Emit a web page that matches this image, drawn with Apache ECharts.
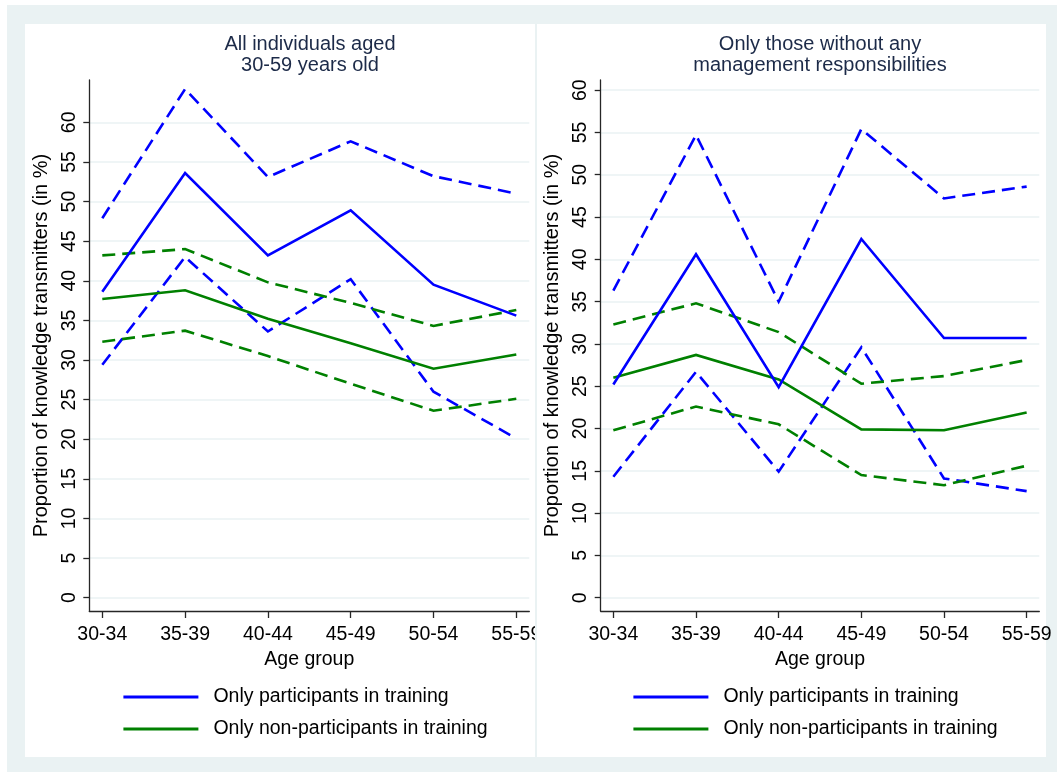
<!DOCTYPE html>
<html><head><meta charset="utf-8">
<script src="https://cdn.jsdelivr.net/npm/echarts@6/dist/echarts.min.js"></script>
<style>
html,body{margin:0;padding:0;background:#fff;width:1057px;height:772px;overflow:hidden}
#frame{position:absolute;left:7px;top:5px;width:1050px;height:767px;background:#eaf2f3}
.panel{position:absolute;top:24px;height:733px;background:#fff}
#p1{position:absolute;left:25px;top:24px;width:510px;height:733px;overflow:hidden}
#p2{position:absolute;left:537px;top:24px;width:515px;height:733px;overflow:hidden}
</style></head><body>
<div id="frame"></div>
<div class="panel" style="left:25px;width:510px"></div>
<div class="panel" style="left:537px;width:509px"></div>
<div id="p1"></div><div id="p2"></div>
<script>
// ---- data ----
const ageGroups = ['30-34', '35-39', '40-44', '45-49', '50-54', '55-59'];
const yTicks = [0, 5, 10, 15, 20, 25, 30, 35, 40, 45, 50, 55, 60];
const legendNames = ['Only participants in training', 'Only non-participants in training'];
const titleAll = 'All individuals aged\n30-59 years old';
const titleNoMgmt = 'Only those without any\nmanagement responsibilities';
const yTitle = 'Proportion of knowledge transmitters (in %)';
const xTitle = 'Age group';

// Panel 1: all individuals aged 30-59
const allPart   = [38.6, 53.6, 43.2, 48.9, 39.5, 35.6];
const allPartHi = [47.9, 64.2, 53.1, 57.6, 53.2, 51.0];
const allPartLo = [29.4, 43.0, 33.6, 40.2, 26.0, 20.1];
const allNon    = [37.7, 38.8, 35.2, 32.1, 28.9, 30.7];
const allNonHi  = [43.2, 44.0, 39.8, 37.2, 34.3, 36.3];
const allNonLo  = [32.3, 33.7, 30.5, 27.0, 23.6, 25.1];

// Panel 2: only those without management responsibilities
const nmPart   = [25.2, 40.6, 24.9, 42.4, 30.7, 30.7];
const nmPartHi = [36.3, 54.7, 35.0, 55.4, 47.2, 48.6];
const nmPartLo = [14.3, 26.7, 14.9, 29.6, 14.1, 12.6];
const nmNon    = [26.0, 28.7, 25.8, 19.9, 19.8, 21.9];
const nmNonHi  = [32.3, 34.8, 31.4, 25.3, 26.2, 28.1];
const nmNonLo  = [19.8, 22.6, 20.5, 14.5, 13.3, 15.6];

// ---- styling ----
const FONT = '"Liberation Sans", Arial, Helvetica, sans-serif';
const FS = 19.5;
const BLUE = '#0000ff', GREEN = '#008000';
const AXIS = '#262626';
const GRIDC = '#eaf2f3';

function ser(name, arr, color, dashed) {
  return {
    type: 'line', name: name, data: arr.map((v, i) => [i, v]),
    symbol: 'none', silent: true, animation: false,
    lineStyle: { color: color, width: 2.6, type: dashed ? [13, 7] : 'solid', cap: 'butt', join: 'miter' },
    itemStyle: { color: color }
  };
}

function makeOption(cfg) {
  const xIdx = ageGroups.map((g, i) => i);
  return {
    animation: false,
    backgroundColor: 'transparent',
    textStyle: { fontFamily: FONT },
    title: {
      text: cfg.title, left: cfg.titleX, top: 10, textAlign: 'center', padding: 0,
      textStyle: { fontFamily: FONT, fontSize: 20, fontWeight: 'normal', color: '#1c2a48', lineHeight: 21 }
    },
    legend: {
      data: legendNames, orient: 'vertical', left: cfg.legendLeft, top: 663, padding: 0,
      itemWidth: 75, itemHeight: 14, itemGap: 12,
      itemStyle: { opacity: 0 },
      lineStyle: { width: 2.8 },
      textStyle: { fontFamily: FONT, fontSize: FS, color: '#000', padding: [0, 0, 0, 10] },
      selectedMode: false
    },
    grid: { left: cfg.gridLeft, right: cfg.gridRight, top: 56, bottom: 146, containLabel: false, outerBoundsMode: 'none' },
    xAxis: {
      type: 'value', min: cfg.xmin, max: cfg.xmax,
      name: xTitle, nameLocation: 'middle', nameGap: 33,
      nameTextStyle: { fontFamily: FONT, fontSize: FS, color: '#000' },
      axisLine: { show: true, onZero: false, lineStyle: { color: AXIS, width: 1.3 } },
      axisTick: { show: true, length: 7, customValues: xIdx, lineStyle: { color: AXIS, width: 1.3 } },
      axisLabel: { show: true, customValues: xIdx, formatter: v => ageGroups[Math.round(v)], fontFamily: FONT, fontSize: FS, color: '#000', margin: 14, hideOverlap: false },
      splitLine: { show: false }
    },
    yAxis: {
      type: 'value', min: cfg.ymin, max: cfg.ymax,
      name: yTitle, nameLocation: 'middle', nameGap: 32,
      nameTextStyle: { fontFamily: FONT, fontSize: 20, color: '#000' },
      axisLine: { show: true, onZero: false, lineStyle: { color: AXIS, width: 1.3 } },
      axisTick: { show: true, length: 6, customValues: yTicks, lineStyle: { color: AXIS, width: 1.3 } },
      axisLabel: { show: true, customValues: yTicks, rotate: 90, fontFamily: FONT, fontSize: FS, color: '#000', margin: 10, hideOverlap: false },
      splitLine: { show: true, lineStyle: { color: GRIDC, width: 1.5 } }
    },
    series: [
      ser(legendNames[0] + ' (upper 95% CI)', cfg.partHi, BLUE, true),
      ser(legendNames[0] + ' (lower 95% CI)', cfg.partLo, BLUE, true),
      ser(legendNames[1] + ' (upper 95% CI)', cfg.nonHi, GREEN, true),
      ser(legendNames[1] + ' (lower 95% CI)', cfg.nonLo, GREEN, true),
      ser(legendNames[1], cfg.non, GREEN, false),
      ser(legendNames[0], cfg.part, BLUE, false)
    ]
  };
}

const c1 = echarts.init(document.getElementById('p1'), null, { renderer: 'canvas' });
c1.setOption(makeOption({
  title: titleAll, titleX: 285, legendLeft: 97,
  gridLeft: 64.3, gridRight: 5.7, xmin: -0.157, xmax: 5.157, ymin: -1.68, ymax: 65.34,
  part: allPart, partHi: allPartHi, partLo: allPartLo, non: allNon, nonHi: allNonHi, nonLo: allNonLo
}));

const c2 = echarts.init(document.getElementById('p2'), null, { renderer: 'canvas' });
c2.setOption(makeOption({
  title: titleNoMgmt, titleX: 283, legendLeft: 95,
  gridLeft: 63.7, gridRight: 12.7, xmin: -0.153, xmax: 5.153, ymin: -1.57, ymax: 61.2,
  part: nmPart, partHi: nmPartHi, partLo: nmPartLo, non: nmNon, nonHi: nmNonHi, nonLo: nmNonLo
}));
</script>
</body></html>
